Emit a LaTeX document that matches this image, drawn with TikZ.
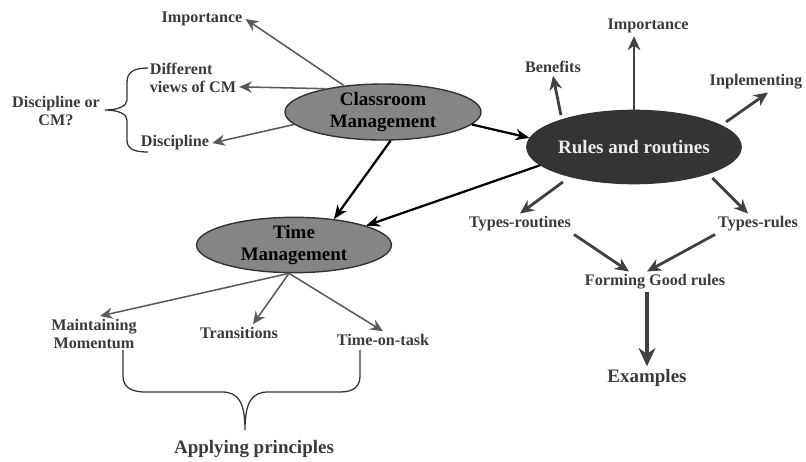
\documentclass[tikz,border=0pt]{standalone}
\usepackage{fontspec}
\setmainfont{Liberation Serif}
\usetikzlibrary{arrows.meta,shapes.geometric}
\definecolor{lbltext}{HTML}{3A3A3A}
\definecolor{arrgray}{HTML}{5A5A5A}
\definecolor{cmfill}{HTML}{858585}
\definecolor{rrfill}{HTML}{343434}

\begin{document}
\begin{tikzpicture}[x=0.025cm,y=-0.025cm,
  lbl/.style={font=\bfseries\fontsize{11.5}{13}\selectfont,text=lbltext,inner sep=2pt},
  biglbl/.style={font=\bfseries\fontsize{13.5}{15}\selectfont,text=lbltext,inner sep=2pt},
  topic/.style={ellipse,draw=black!80,line width=1pt,align=center,inner sep=0pt,
    font=\bfseries\fontsize{13.5}{15.5}\selectfont},
  thinarr/.style={draw=arrgray,line width=1.1pt,-{Stealth[length=9pt,width=8pt]}},
  midarr/.style={draw=black!75,line width=2pt,-{Stealth[length=10pt,width=9pt]}},
  mainarr/.style={draw=black,line width=1.6pt,-{Stealth[length=10pt,width=8pt]}},
  bracepath/.style={draw=black!80,line width=0.9pt}]
\useasboundingbox (0,0) rectangle (806,461);

% the three topics
\node[topic,fill=cmfill,minimum width=4.9cm,minimum height=1.4cm] (cm) at (383,112) {Classroom\\Management};
\node[topic,fill=rrfill,text=white!92!black,minimum width=4.8cm,minimum height=1.83cm] (rr) at (634,147) {Rules and routines};
\node[topic,fill=cmfill,minimum width=4.87cm,minimum height=1.37cm] (tm) at (294,245) {Time\\Management};

% around classroom management
\node[lbl] (imp1) at (202,19) {Importance};
\node[lbl,align=left] (diff) at (193,78) {Different\\views of CM};
\node[lbl] (disc) at (175,143) {Discipline};
\node[lbl,align=center] (dorc) at (56,111) {Discipline or\\CM?};

\draw[thinarr] (cm) -- (imp1.east);
\draw[thinarr] (cm.158) -- ([yshift=-0.22cm]diff.east);
\draw[thinarr] (cm.188) -- (disc.east);

% brace for discipline
\draw[bracepath] (148,68) .. controls (134,68) and (127,72) .. (127,82)
  -- (127,100) .. controls (127,106) and (118,110) .. (105,110)
  .. controls (118,110) and (127,114) .. (127,120)
  -- (127,140) .. controls (127,149) and (134,152) .. (148,152);

% around rules and routines
\node[lbl] (ben) at (553,67) {Benefits};
\node[lbl] (imp2) at (648,26) {Importance};
\node[lbl] (impl) at (756,82) {Inplementing};
\node[lbl] (trout) at (520,224) {Types-routines};
\node[lbl] (trul) at (758,224) {Types-rules};
\node[lbl] (form) at (655,282) {Forming Good rules};
\node[biglbl] (exam) at (647,378) {Examples};

\draw[midarr,shorten <=3pt] (rr.159) -- (ben.south);
\draw[midarr] (rr.north) -- (rr.north |- imp2.south);
\draw[midarr,shorten <=4pt] (rr.14) -- ([xshift=0.3cm]impl.south);
\draw[midarr,shorten <=6pt] (rr.205) -- (trout.north);
\draw[midarr,shorten <=4pt] (rr.-20) -- ([xshift=-0.25cm]trul.north);
\draw[midarr] (trout.south east) -- ([xshift=-0.65cm]form.north);
\draw[midarr] (trul.south west) -- ([xshift=-0.2cm]form.north);
\draw[midarr,line width=3pt,-{Stealth[length=13pt,width=12pt]}] (exam.north |- form.south) -- (exam.north);

% main links
\draw[mainarr] (cm.-8) -- (rr.175);
\draw[mainarr] (cm.-75) -- (tm.33);
\draw[mainarr] (rr.191) -- (tm.15);

% around time management
\node[lbl,align=center] (mm) at (94,334) {Maintaining\\Momentum};
\node[lbl] (trans) at (239,333) {Transitions};
\node[lbl] (tot) at (383,340) {Time-on-task};
\node[biglbl] (apply) at (254,449) {Applying principles};

\draw[thinarr] (tm.-100) -- ([xshift=0.15cm]mm.north);
\draw[thinarr] (tm.-100) -- ([xshift=0.35cm]trans.north);
\draw[thinarr] (tm.-100) -- (tot.north);

% brace for the principles
\draw[bracepath] (123,350) -- (123,376) .. controls (123,386) and (130,392) .. (145,392)
  -- (222,392) .. controls (238,392) and (245,402) .. (245,430)
  .. controls (245,402) and (252,392) .. (268,392)
  -- (340,392) .. controls (354,392) and (360,386) .. (360,376) -- (360,350);
\end{tikzpicture}
\end{document}
